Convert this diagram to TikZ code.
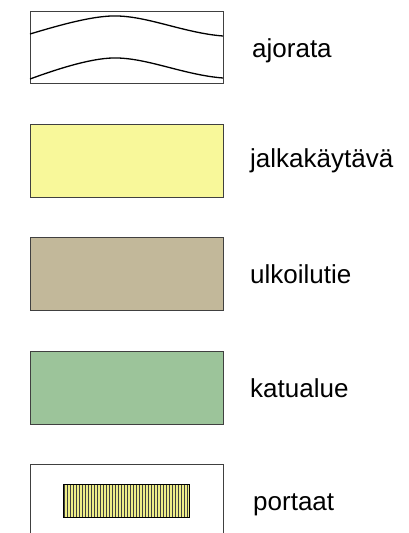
\documentclass[tikz,border=0pt]{standalone}
\usepackage{fontspec}
\setmainfont{Liberation Sans}
\definecolor{jalka}{HTML}{F8F89A}
\definecolor{ulko}{HTML}{C2B89A}
\definecolor{katu}{HTML}{9CC49A}
\definecolor{edge}{HTML}{404040}
\definecolor{porras}{HTML}{EEEE88}
\begin{document}
\begin{tikzpicture}[x=1pt,y=-1pt,
  legbox/.style={draw=edge,line width=0.9pt},
  label/.style={anchor=base west,font=\fontsize{26}{30}\selectfont,inner sep=0pt}]
\useasboundingbox (0,0) rectangle (408,533);
% ajorata
\draw[legbox,fill=white] (30,11) rectangle (223,83);
\draw[line width=1.3pt] (30,34) .. controls (60,25) and (95,15) .. (118,16)
  .. controls (150,17) and (185,33) .. (223,36);
\draw[line width=1.3pt] (30,79) .. controls (60,68) and (95,57) .. (118,58)
  .. controls (150,59) and (185,75) .. (223,78);
\node[label] (t1) at (252,57) {ajorata};
% jalkakaytava
\draw[legbox,fill=jalka] (30,124) rectangle (223,197);
\node[label] (t2) at (250,167) {jalkakäytävä};
% ulkoilutie
\draw[legbox,fill=ulko] (30,237) rectangle (223,310);
\node[label] (t3) at (250,283) {ulkoilutie};
% katualue
\draw[legbox,fill=katu] (30,351) rectangle (223,424);
\node[label] (t4) at (250,397) {katualue};
% portaat
\draw[legbox] (30,533) -- (30,464) -- (223,464) -- (223,533);
\fill[porras] (63,484) rectangle (189,517);
\foreach \i in {0,...,41} {
  \draw[line width=0.6pt,black!75] ({64.5+3*\i},484) -- ({64.5+3*\i},517);
}
\draw[line width=0.8pt,black] (63,484) rectangle (189,517);
\node[label] (t5) at (253,510) {portaat};
\end{tikzpicture}
\end{document}
